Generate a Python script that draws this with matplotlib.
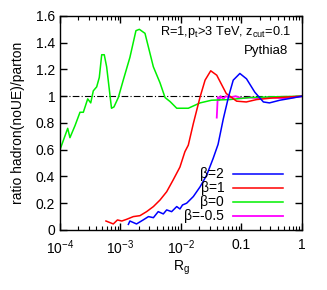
import numpy as np
import matplotlib
matplotlib.use("Agg")
import matplotlib.pyplot as plt
from matplotlib.ticker import FixedLocator, FixedFormatter, LogLocator, NullFormatter

plt.rcParams['font.family'] = ['Liberation Sans', 'DejaVu Sans']
plt.rcParams['mathtext.fontset'] = 'custom'
plt.rcParams['mathtext.rm'] = 'Liberation Sans'
plt.rcParams['mathtext.it'] = 'Liberation Sans'

# beta = 0 (green)
x_b0 = [1.0e-4, 1.34e-4, 1.46e-4, 1.77e-4, 2.14e-4, 2.43e-4, 2.87e-4, 3.22e-4, 3.55e-4,
        4.04e-4, 4.46e-4, 4.89e-4, 5.39e-4, 5.9e-4, 7.1e-4, 7.8e-4, 9.2e-4, 1.11e-3,
        1.43e-3, 1.80e-3, 2.05e-3, 2.54e-3, 3.49e-3, 4.5e-3, 5.45e-3, 6.6e-3, 8.5e-3,
        1.32e-2, 2.07e-2, 3.2e-2, 6.4e-2, 0.137, 0.3, 0.6, 1.0]
y_b0 = [0.60, 0.76, 0.69, 0.78, 0.88, 0.88, 0.98, 0.95, 1.04,
        1.07, 1.14, 1.31, 1.31, 1.22, 0.91, 0.92, 0.99, 1.12,
        1.29, 1.49, 1.50, 1.47, 1.22, 1.10, 0.99, 0.96, 0.91,
        0.91, 0.95, 0.97, 0.975, 0.99, 0.995, 0.998, 1.0]

# beta = 1 (red)
x_b1 = [5.75e-4, 7.6e-4, 8.9e-4, 1.05e-3, 1.27e-3, 1.63e-3, 2.1e-3, 2.7e-3, 3.5e-3,
        4.5e-3, 5.8e-3, 7.4e-3, 9.6e-3, 1.16e-2, 1.32e-2, 1.6e-2, 2.07e-2, 2.5e-2,
        3.1e-2, 3.9e-2, 5.6e-2, 8.3e-2, 0.12, 0.178, 0.33, 0.63, 1.0]
y_b1 = [0.067, 0.045, 0.075, 0.067, 0.08, 0.10, 0.107, 0.137, 0.175,
        0.224, 0.286, 0.373, 0.47, 0.585, 0.634, 0.796, 0.995, 1.12,
        1.19, 1.157, 1.02, 0.963, 0.957, 0.975, 0.987, 0.995, 1.0]

# beta = 2 (blue)
x_b2 = [1.35e-3, 1.43e-3, 1.84e-3, 2.37e-3, 2.9e-3, 3.5e-3, 4.2e-3, 5.1e-3, 5.8e-3,
        7.0e-3, 8.5e-3, 9.6e-3, 1.06e-2, 1.24e-2, 1.6e-2, 2.07e-2, 2.66e-2, 3.4e-2,
        4.1e-2, 5.0e-2, 6.1e-2, 7.3e-2, 9.4e-2, 0.121, 0.166, 0.23, 0.29, 0.43, 0.63, 1.0]
y_b2 = [0.042, 0.067, 0.045, 0.075, 0.10, 0.092, 0.137, 0.12, 0.15,
        0.137, 0.175, 0.157, 0.187, 0.20, 0.25, 0.323, 0.41, 0.535,
        0.64, 0.83, 0.995, 1.12, 1.17, 1.13, 1.03, 0.957, 0.95, 0.97, 0.983, 1.0]

# beta = -0.5 (magenta)
x_bm = [0.039, 0.0405, 0.043, 0.045, 0.05, 0.055, 0.065, 0.08, 0.1, 0.14, 0.2, 0.3, 0.5, 0.7, 1.0]
y_bm = [0.84, 0.995, 0.97, 1.0, 0.98, 1.0, 0.99, 1.0, 0.985, 0.99, 0.985, 0.99, 0.985, 0.99, 1.0]

fig = plt.figure(figsize=(3.27, 2.90), dpi=100)
ax = fig.add_axes([0.1835, 0.207, 0.74, 0.738])

ax.axhline(1.0, color='black', lw=0.8, dashes=(6, 2, 1, 2))
ax.plot(x_bm, y_bm, color='#ff00ff', lw=1.3, label='β=-0.5')
ax.plot(x_b0, y_b0, color='#00f000', lw=1.1, label='β=0')
ax.plot(x_b1, y_b1, color='#ff0000', lw=1.1, label='β=1')
ax.plot(x_b2, y_b2, color='#0000ff', lw=1.1, label='β=2')

ax.set_xscale('log')
ax.set_xlim(1e-4, 1)
ax.set_ylim(0, 1.6)

ax.xaxis.set_major_locator(FixedLocator([1e-4, 1e-3, 1e-2, 0.1, 1]))
ax.xaxis.set_major_formatter(FixedFormatter([r'10$^{-4}$', r'10$^{-3}$', r'10$^{-2}$', '0.1', '1']))
ax.xaxis.set_minor_locator(LogLocator(base=10, subs=np.arange(2, 10)))
ax.xaxis.set_minor_formatter(NullFormatter())
ax.set_yticks([0, 0.2, 0.4, 0.6, 0.8, 1.0, 1.2, 1.4, 1.6])
ax.set_yticklabels(['0', '0.2', '0.4', '0.6', '0.8', '1', '1.2', '1.4', '1.6'])

ax.tick_params(which='both', direction='in', top=True, right=True, labelsize=10)
ax.tick_params(which='major', length=5, width=1)
ax.tick_params(axis='x', which='major', pad=6)
ax.tick_params(which='minor', length=3, width=0.8)
for s in ax.spines.values():
    s.set_linewidth(1.0)

ax.set_xlabel(r'R$_\mathregular{g}$', fontsize=10, labelpad=1)
ax.set_ylabel('ratio hadron(noUE)/parton', fontsize=10, labelpad=8)

ax.text(0.955, 0.925, r'R=1,p$_\mathregular{t}$>3 TeV, z$_\mathregular{cut}$=0.1',
        transform=ax.transAxes, ha='right', va='center', fontsize=9.2)
ax.text(0.942, 0.835, 'Pythia8', transform=ax.transAxes, ha='right', va='center', fontsize=9.5)

h, l = ax.get_legend_handles_labels()
order = [3, 2, 1, 0]
ax.legend([h[i] for i in order], [l[i] for i in order], loc='lower right',
          bbox_to_anchor=(0.96, -0.015), frameon=False, markerfirst=False,
          handlelength=3.6, handletextpad=0.6, labelspacing=0.0, fontsize=10,
          borderaxespad=0.3)

fig.savefig('out.png', dpi=100)
